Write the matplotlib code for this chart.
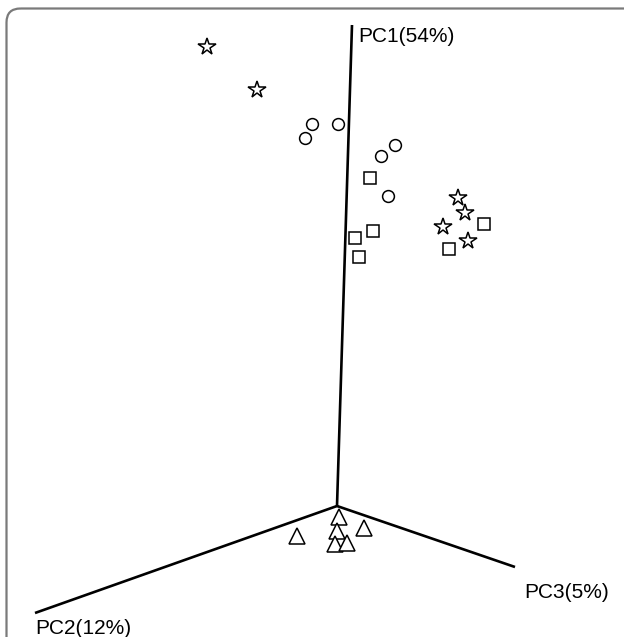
import matplotlib
matplotlib.use("Agg")
import matplotlib.pyplot as plt
from matplotlib.patches import FancyBboxPatch

plt.rcParams['font.family'] = ['Liberation Sans', 'DejaVu Sans']

# posições projetadas (coordenadas da figura, em pixels)
origem = (337, 506)
eixo_fim = {"PC1(54%)": (352, 25), "PC2(12%)": (35, 613), "PC3(5%)": (515, 567)}
rotulo_pos = {"PC1(54%)": (358, 36), "PC2(12%)": (35, 628), "PC3(5%)": (524, 592)}

estrela_x = [206.7, 256.7, 457.7, 465.0, 443.3, 467.7]
estrela_y = [47.3, 90.0, 198.3, 213.3, 226.7, 240.7]

circulo_x = [312.3, 337.7, 305.3, 395.0, 380.7, 387.7]
circulo_y = [124.0, 124.0, 138.0, 145.3, 156.0, 195.7]

quadrado_x = [370.0, 373.3, 355.3, 359.0, 484.3, 448.7]
quadrado_y = [177.5, 231.0, 238.3, 256.7, 224.0, 249.3]

triangulo_x = [339.0, 336.5, 296.7, 364.3, 335.0, 347.0]
triangulo_y = [517.3, 530.8, 535.7, 528.3, 544.3, 542.5]

W, H = 624, 637
fig = plt.figure(figsize=(W / 100, H / 100), dpi=100)
ax = fig.add_axes([0, 0, 1, 1])
ax.set_xlim(0, W)
ax.set_ylim(H, 0)
ax.axis("off")

#moldura com canto arredondado (só topo e esquerda visíveis)
moldura = FancyBboxPatch((6.5, 8.5), 800, 800, boxstyle="round,pad=0,rounding_size=14",
                         facecolor="none", edgecolor="#7a7a7a", linewidth=1.6, zorder=1)
ax.add_patch(moldura)

for nome, (xf, yf) in eixo_fim.items():
    ax.plot([origem[0], xf], [origem[1], yf], color="black", linewidth=1.9,
            solid_capstyle="butt", zorder=2)
    tx, ty = rotulo_pos[nome]
    ax.text(tx, ty, nome, fontsize=15, ha="left", va="center", color="black")

kw = dict(linestyle="none", markerfacecolor="white", markeredgecolor="black",
          markeredgewidth=1.1, zorder=3)
ax.plot(estrela_x, estrela_y, marker="*", markersize=13, **kw)
ax.plot(circulo_x, circulo_y, marker="o", markersize=8.5, **kw)
ax.plot(quadrado_x, quadrado_y, marker="s", markersize=8, **kw)
ax.plot(triangulo_x, triangulo_y, marker="^", markersize=11.5, **kw)

fig.savefig("out.png", dpi=100)
